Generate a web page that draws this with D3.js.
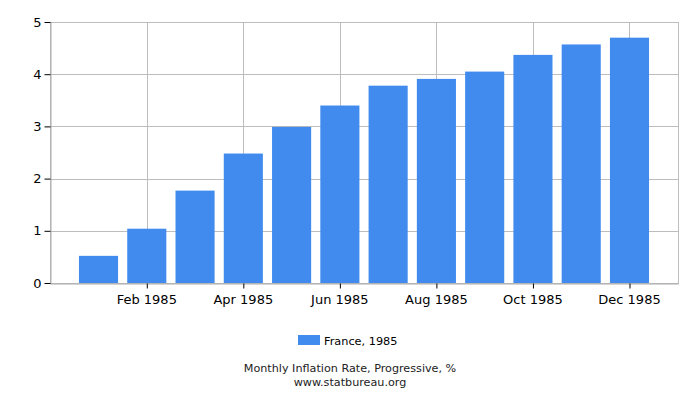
<!DOCTYPE html>
<html>
<head>
<meta charset="utf-8">
<script src="https://cdn.jsdelivr.net/npm/d3@7"></script>
<style>
  body { margin: 0; background: #fff; }
  svg { display: block; font-family: "DejaVu Sans", sans-serif; }
</style>
</head>
<body>
<svg width="700" height="400"></svg>
<script>
// data
const months = ['Jan 1985', 'Feb 1985', 'Mar 1985', 'Apr 1985', 'May 1985', 'Jun 1985',
    'Jul 1985', 'Aug 1985', 'Sep 1985', 'Oct 1985', 'Nov 1985', 'Dec 1985'];
const values = [0.52, 1.04, 1.77, 2.48, 2.99, 3.40, 3.78, 3.91, 4.05, 4.37, 4.57, 4.70];
const xTickLabels = ['Feb 1985', 'Apr 1985', 'Jun 1985', 'Aug 1985', 'Oct 1985', 'Dec 1985'];
const yTicks = [0, 1, 2, 3, 4, 5];
const seriesName = 'France, 1985';
const title = 'Monthly Inflation Rate, Progressive, %';
const source = 'www.statbureau.org';

const margin = {top: 22, right: 22, bottom: 117, left: 50};
const width = 700 - margin.left - margin.right;
const height = 400 - margin.top - margin.bottom;
const barColor = '#418bef';
const gridColor = '#bdbdbd';

const svg = d3.select('svg');
const g = svg.append('g')
    .attr('transform', `translate(${margin.left}, ${margin.top})`);

// x
const x = d3.scaleBand()
    .domain(months)
    .range([0, width])
    .paddingInner(0.19)
    .paddingOuter(0.6);

// y
const y = d3.scaleLinear()
    .domain([0, 5])
    .range([height, 0]);

// grid
g.selectAll('.hgrid')
    .data(yTicks)
    .enter().append('line')
    .attr('x1', 0)
    .attr('x2', width)
    .attr('y1', d => Math.round(y(d)) + 0.5)
    .attr('y2', d => Math.round(y(d)) + 0.5)
    .attr('stroke', gridColor);

g.selectAll('.vgrid')
    .data(xTickLabels)
    .enter().append('line')
    .attr('x1', d => Math.round(x(d) + x.bandwidth() / 2) + 0.5)
    .attr('x2', d => Math.round(x(d) + x.bandwidth() / 2) + 0.5)
    .attr('y1', 0)
    .attr('y2', height)
    .attr('stroke', gridColor);

// border
g.append('rect')
    .attr('x', 0.5)
    .attr('y', 0.5)
    .attr('width', width)
    .attr('height', height)
    .attr('fill', 'none')
    .attr('stroke', gridColor);

// bars
g.selectAll('.bar')
    .data(values)
    .enter().append('rect')
    .attr('x', (d, i) => x(months[i]))
    .attr('width', x.bandwidth())
    .attr('y', d => y(d))
    .attr('height', d => height - y(d))
    .attr('fill', barColor);

// axes
const xAxis = d3.axisBottom(x)
    .tickValues(xTickLabels)
    .tickSize(5)
    .tickSizeOuter(0);

const gx = g.append('g')
    .attr('transform', `translate(0, ${height + 0.5})`)
    .call(xAxis);
gx.select('.domain').attr('stroke', '#aaa');
gx.selectAll('.tick line').attr('stroke', '#000').attr('transform', 'translate(0.5,0)');
gx.selectAll('.tick text')
    .attr('font-size', 13)
    .attr('font-family', 'DejaVu Sans, sans-serif')
    .attr('fill', '#000')
    .attr('dy', '0.95em');

const yAxis = d3.axisLeft(y)
    .tickValues(yTicks)
    .tickSize(6)
    .tickSizeOuter(0)
    .tickFormat(d3.format('d'));

const gy = g.append('g')
    .attr('transform', 'translate(0.5, 0)')
    .call(yAxis);
gy.select('.domain').attr('stroke', '#aaa');
gy.selectAll('.tick line').attr('stroke', '#000');
gy.selectAll('.tick text')
    .attr('font-size', 13)
    .attr('font-family', 'DejaVu Sans, sans-serif')
    .attr('fill', '#000')
    .attr('x', -9);

// legend
const legend = svg.append('g')
    .attr('transform', 'translate(298, 335)');
legend.append('rect')
    .attr('width', 22)
    .attr('height', 10)
    .attr('fill', barColor);
legend.append('text')
    .attr('x', 26)
    .attr('y', 9.5)
    .attr('font-size', 11.3)
    .attr('fill', '#000')
    .text(seriesName);

// title + source
svg.append('text')
    .attr('x', 350)
    .attr('y', 372)
    .attr('text-anchor', 'middle')
    .attr('font-size', 11.2)
    .attr('fill', '#222')
    .text(title);

svg.append('text')
    .attr('x', 350)
    .attr('y', 386)
    .attr('text-anchor', 'middle')
    .attr('font-size', 11.2)
    .attr('fill', '#222')
    .text(source);
</script>
</body>
</html>
